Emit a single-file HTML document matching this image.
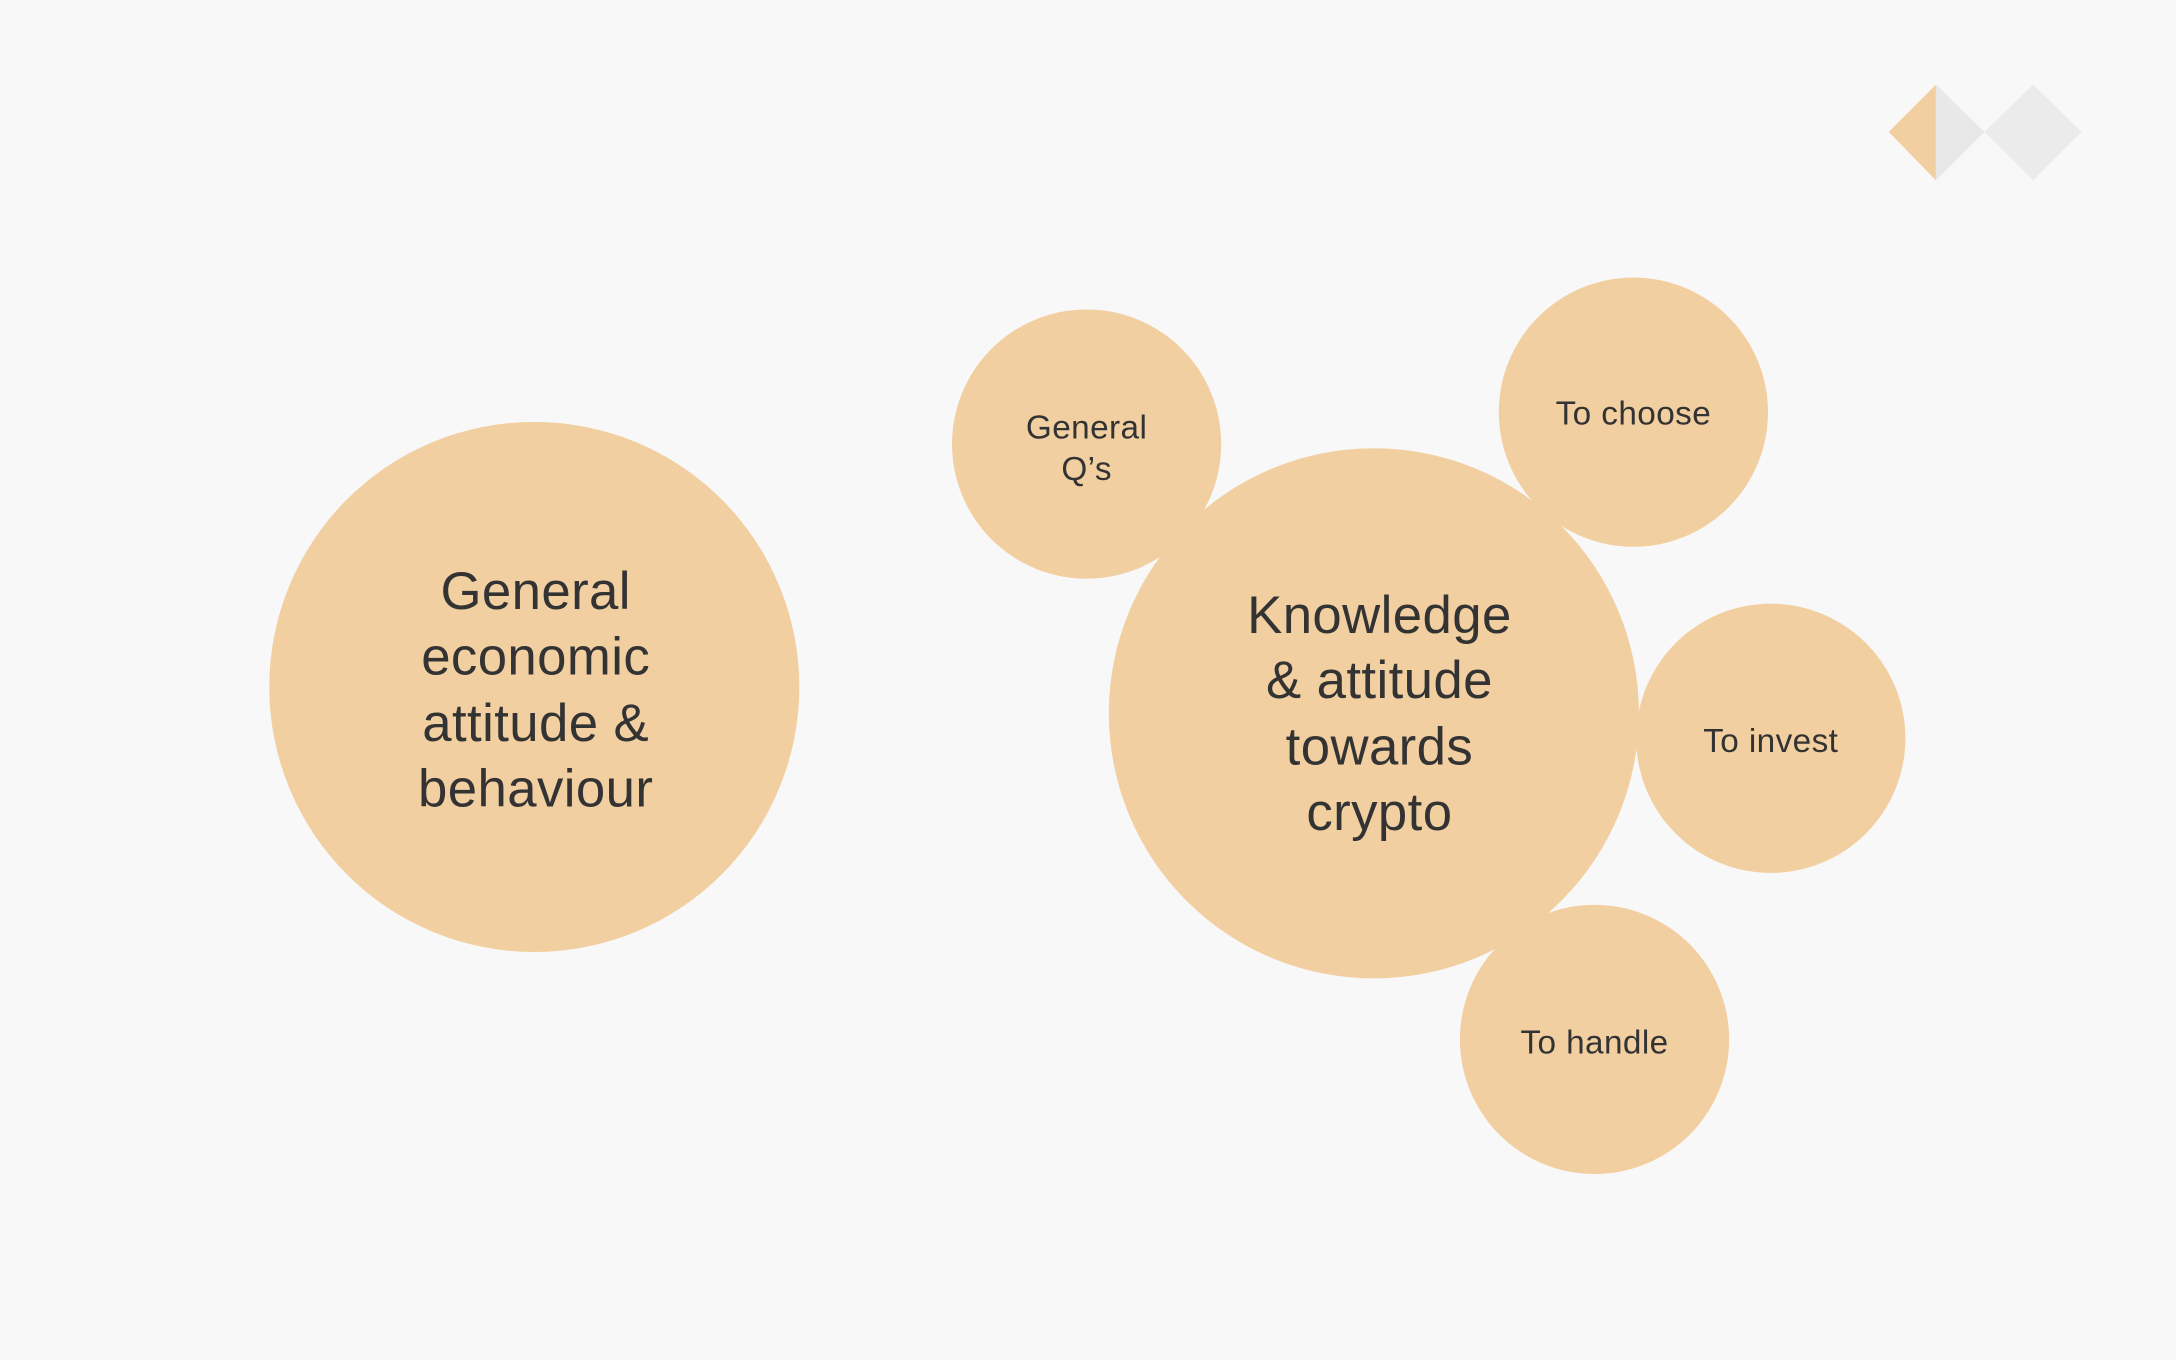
<!DOCTYPE html>
<html><head><meta charset="utf-8"><style>
html,body{margin:0;padding:0;background:#f8f8f8;}
svg{display:block;}
text{font-family:"Liberation Sans",sans-serif;fill:#333;text-anchor:middle;}
</style></head><body>
<svg width="2176" height="1360" viewBox="0 0 1568 980" xmlns="http://www.w3.org/2000/svg">
<rect width="1568" height="980" fill="#f8f8f8"/>
<polygon points="1395,61 1395,130 1361,95" fill="#f2cfa1"/>
<polygon points="1395,61 1430,95 1395,130" fill="#e8e8e8"/>
<polygon points="1465,61 1500,95 1465,130 1430,95" fill="#ebebeb"/>
<circle cx="385" cy="495" r="191" fill="#f2cfa1"/>
<g font-size="38" letter-spacing="0.3">
<text x="386" y="439">General</text>
<text x="386" y="486">economic</text>
<text x="386" y="534">attitude &amp;</text>
<text x="386" y="581">behaviour</text>
</g>
<g fill="#f2cfa1">
<circle cx="990" cy="514" r="191"/>
<circle cx="783" cy="320" r="97"/>
<circle cx="1177" cy="297" r="97"/>
<circle cx="1276" cy="532" r="97"/>
<circle cx="1149" cy="749" r="97"/>
</g>
<g font-size="38" letter-spacing="0.3">
<text x="994" y="456">Knowledge</text>
<text x="994" y="503">&amp; attitude</text>
<text x="994" y="551">towards</text>
<text x="994" y="598">crypto</text>
</g>
<g font-size="24" letter-spacing="0.3">
<text x="783" y="316">General</text>
<text x="783" y="346">Q’s</text>
<text x="1177" y="306">To choose</text>
<text x="1276" y="542">To invest</text>
<text x="1149" y="759">To handle</text>
</g>
</svg>
</body></html>
